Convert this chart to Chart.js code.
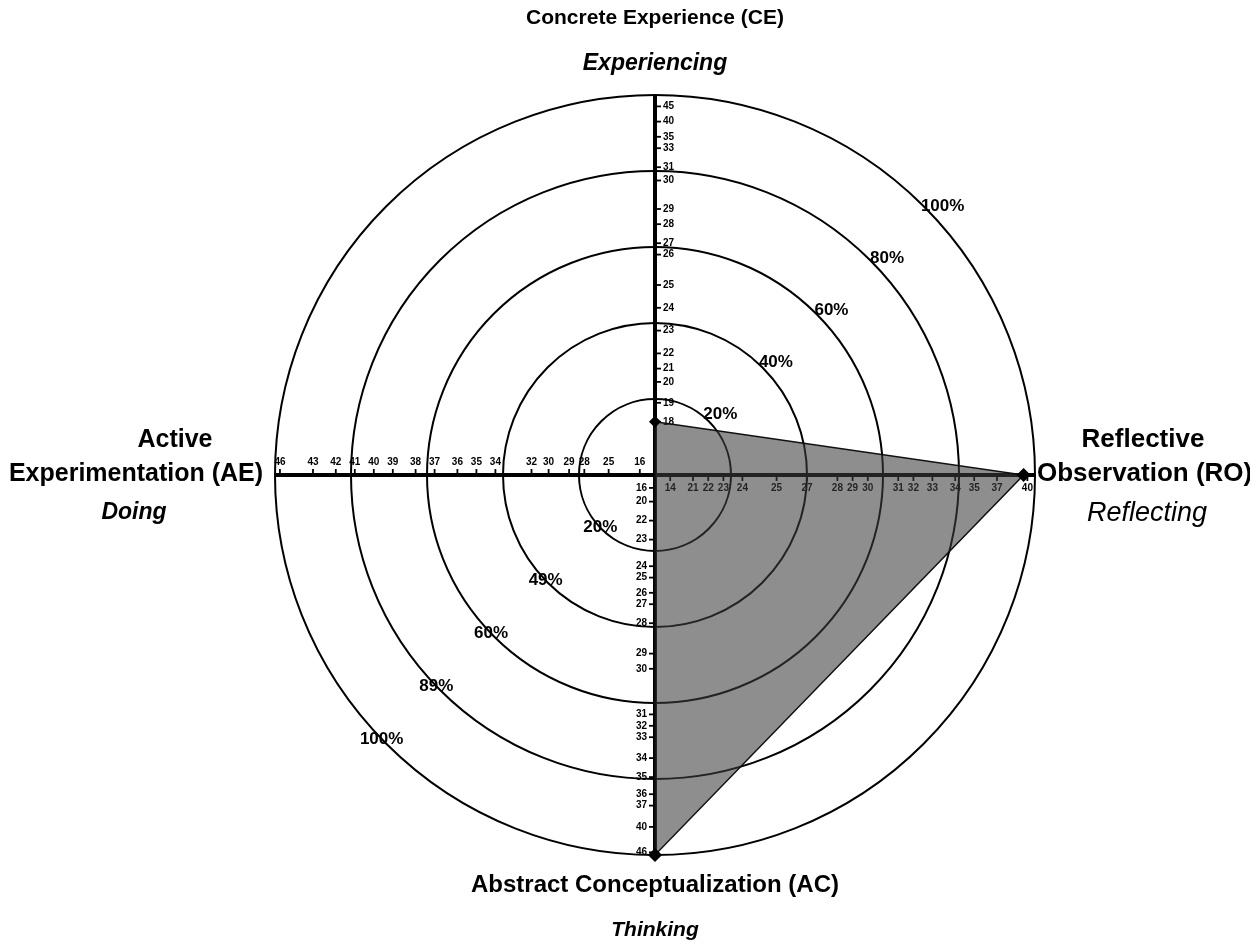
<!DOCTYPE html>
<html>
<head>
<meta charset="utf-8">
<script src="https://cdn.jsdelivr.net/npm/chart.js@4.4.0/dist/chart.umd.min.js"></script>
<style>
  html, body { margin: 0; padding: 0; background: #fff; }
  #wrap { width: 1250px; height: 945px; }
</style>
</head>
<body>
<div id="wrap"><canvas id="lsiChart" width="1250" height="945"></canvas></div>
<script>
// Learning modes, clockwise from the top
const modeNames = ['Concrete Experience (CE)', 'Reflective Observation (RO)', 'Abstract Conceptualization (AC)', 'Active Experimentation (AE)'];
const modeVerbs = ['Experiencing', 'Reflecting', 'Thinking', 'Doing'];

// Percentile of the plotted profile on each axis
const profilePercentiles = [14, 97, 100, 0];

// Percentile rings
const ringValues = [20, 40, 60, 80, 100];
const ringLabels = ['20%', '40%', '60%', '80%', '100%'];
const ringLabelsLower = ['20%', '49%', '60%', '89%', '100%'];

// Raw score tick labels and the percentile where each one sits
const ceScores = [45, 40, 35, 33, 31, 30, 29, 28, 27, 26, 25, 24, 23, 22, 21, 20, 19, 18];
const cePercentiles = [97, 93, 89, 86, 81, 77.5, 70, 66, 61, 58, 50, 44, 38, 32, 28, 24.5, 19, 14];

const roScores = [14, 21, 22, 23, 24, 25, 27, 28, 29, 30, 31, 32, 33, 34, 35, 37, 40];
const roPercentiles = [4, 10, 14, 18, 23, 32, 40, 48, 52, 56, 64, 68, 73, 79, 84, 90, 98];

const acScores = [16, 20, 22, 23, 24, 25, 26, 27, 28, 29, 30, 31, 32, 33, 34, 35, 36, 37, 40, 46];
const acPercentiles = [3.4, 7, 12, 17, 24, 27, 31, 34, 39, 47, 51, 63, 66, 69, 74.5, 79.5, 84, 87, 92.6, 99.3];

const aeScores = [46, 43, 42, 41, 40, 39, 38, 37, 36, 35, 34, 32, 30, 29, 28, 25, 16];
const aePercentiles = [98.7, 90, 84, 79, 74, 69, 63, 58, 52, 47, 42, 32.5, 28, 22.6, 18.6, 12.2, 4];

const scoreAxes = [
    { scores: ceScores, pct: cePercentiles },
    { scores: roScores, pct: roPercentiles },
    { scores: acScores, pct: acPercentiles },
    { scores: aeScores, pct: aePercentiles }
];

const FONT = '"Liberation Sans", Arial, Helvetica, sans-serif';

// raw score ticks along the four axes (drawn under the shaded profile)
const scoreTicksPlugin = {
    id: 'scoreTicks',
    beforeDatasetsDraw(chart) {
        const scale = chart.scales.r;
        const ctx = chart.ctx;
        ctx.save();
        ctx.strokeStyle = '#000';
        ctx.fillStyle = '#000';
        ctx.lineWidth = 1.8;
        ctx.font = 'bold 10px ' + FONT;
        scoreAxes.forEach((axis, i) => {
            const angle = scale.getIndexAngle(i) - Math.PI / 2;
            const dx = Math.cos(angle), dy = Math.sin(angle);
            const sx = -dy, sy = dx;
            axis.scores.forEach((score, k) => {
                const dist = scale.getDistanceFromCenterForValue(axis.pct[k]);
                const x = scale.xCenter + dx * dist;
                const y = scale.yCenter + dy * dist;
                ctx.beginPath();
                ctx.moveTo(x, y);
                ctx.lineTo(x + sx * 6, y + sy * 6);
                ctx.stroke();
                ctx.textAlign = sx > 0.5 ? 'left' : (sx < -0.5 ? 'right' : 'center');
                ctx.textBaseline = sy > 0.5 ? 'top' : (sy < -0.5 ? 'bottom' : 'middle');
                ctx.fillText(String(score), x + sx * 8, y + sy * 8);
            });
        });
        ctx.restore();
    }
};

// ring percentages and the mode titles
const labelsPlugin = {
    id: 'modeLabels',
    afterDraw(chart) {
        const scale = chart.scales.r;
        const ctx = chart.ctx;
        const cx = scale.xCenter, cy = scale.yCenter, R = scale.drawingArea;
        ctx.save();
        ctx.fillStyle = '#000';
        ctx.textAlign = 'center';
        ctx.textBaseline = 'middle';

        ctx.font = 'bold 17px ' + FONT;
        const upAngle = -43 * Math.PI / 180;
        const lowAngle = 136 * Math.PI / 180;
        ringValues.forEach((v, i) => {
            let d = scale.getDistanceFromCenterForValue(v + 3.5);
            ctx.fillText(ringLabels[i], cx + Math.cos(upAngle) * d, cy + Math.sin(upAngle) * d);
            d = scale.getDistanceFromCenterForValue(v);
            ctx.fillText(ringLabelsLower[i], cx + Math.cos(lowAngle) * d, cy + Math.sin(lowAngle) * d);
        });

        const boldItalic = 'italic bold 23px ' + FONT;

        // top
        ctx.font = 'bold 21px ' + FONT;
        ctx.fillText(modeNames[0], cx, cy - R - 77);
        ctx.font = boldItalic;
        ctx.fillText(modeVerbs[0], cx, cy - R - 31);

        // bottom
        ctx.font = 'bold 24px ' + FONT;
        ctx.fillText(modeNames[2], cx, cy + R + 30);
        ctx.font = 'italic bold 21px ' + FONT;
        ctx.fillText(modeVerbs[2], cx, cy + R + 75);

        // left
        const ae = modeNames[3].split(' ');
        ctx.font = 'bold 25px ' + FONT;
        ctx.fillText(ae[0], cx - R - 100, cy - 35);
        ctx.fillText(ae.slice(1).join(' '), cx - R - 139, cy - 1);
        ctx.font = boldItalic;
        ctx.fillText(modeVerbs[3], cx - R - 141, cy + 38);

        // right (runs off the edge like the source)
        const ro = modeNames[1].split(' ');
        ctx.font = 'bold 26px ' + FONT;
        ctx.fillText(ro[0], cx + R + 108, cy - 35);
        ctx.textAlign = 'left';
        ctx.fillText(ro.slice(1).join(' '), cx + R + 2, cy - 1);
        ctx.textAlign = 'center';
        ctx.font = 'italic 27px ' + FONT;
        ctx.fillText(modeVerbs[1], cx + R + 112, cy + 38);

        ctx.restore();
    }
};

const config = {
    type: 'radar',
    data: {
        labels: modeNames,
        datasets: [{
            label: 'Learning profile',
            data: profilePercentiles,
            borderColor: '#111',
            borderWidth: 1.5,
            backgroundColor: 'rgba(60, 60, 60, 0.58)',
            fill: true,
            pointStyle: 'rectRot',
            pointRadius: [5, 6, 6, 0],
            pointBackgroundColor: '#000',
            pointBorderColor: '#000'
        }]
    },
    options: {
        responsive: false,
        animation: false,
        layout: { padding: { left: 275, right: 215, top: 95, bottom: 90 } },
        plugins: {
            legend: { display: false },
            tooltip: { enabled: false }
        },
        scales: {
            r: {
                min: 0,
                max: 100,
                ticks: { display: false, stepSize: 20 },
                grid: { circular: true, color: '#000', lineWidth: 2 },
                angleLines: { display: true, color: '#000', lineWidth: 4 },
                pointLabels: { display: false }
            }
        }
    },
    plugins: [scoreTicksPlugin, labelsPlugin]
};

new Chart(document.getElementById('lsiChart').getContext('2d'), config);
</script>
</body>
</html>
